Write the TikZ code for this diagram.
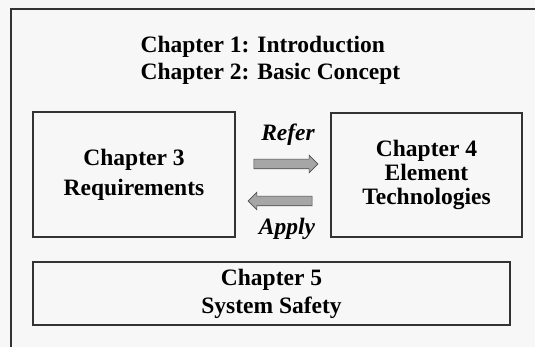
\documentclass[tikz,border=0pt]{standalone}
\usepackage{fontspec}
\setmainfont{Liberation Serif}
\usetikzlibrary{shapes.arrows}

\begin{document}
\begin{tikzpicture}[x=1pt, y=-1pt, line width=1.1pt,
        font=\fontsize{23.5}{27}\selectfont\bfseries,
        chapbox/.style={draw=black!80, align=center, inner sep=0pt},
        fatarrow/.style={single arrow, draw=black!70, fill=black!35, line width=0.6pt,
            minimum height=64pt, single arrow head extend=4pt, inner sep=4.5pt}]
            \clip (0,0) rectangle (535,347);
            \fill[black!3] (0,0) rectangle (535,347);
            \draw[black!80] (11,360) -- (11,9) -- (550,9);
            \node[anchor=west, align=left, inner sep=0pt] (intro) at (140,60)
                {Chapter 1: Introduction\\Chapter 2: Basic Concept};
            \node[chapbox, minimum width=202pt, minimum height=125pt,
                font=\fontsize{23.5}{30}\selectfont\bfseries] (req) at (134,174.5)
                {Chapter 3\\Requirements};
            \node[chapbox, minimum width=191pt, minimum height=124pt,
                font=\fontsize{23.5}{24}\selectfont\bfseries] (tech) at (426.5,175)
                {Chapter 4\\Element\\Technologies};
            \node[chapbox, minimum width=477pt, minimum height=63pt,
                font=\fontsize{23.5}{28}\selectfont\bfseries] (safety) at (271.5,293.5)
                {Chapter 5\\System Safety};
            \node[font=\fontsize{23.5}{27}\selectfont\bfseries\itshape] (refer) at (288,135) {Refer};
            \node[font=\fontsize{23.5}{27}\selectfont\bfseries\itshape] (apply) at (287,229) {Apply};
            \node[fatarrow] (refarrow) at (283.5,164) {};
            \node[fatarrow, shape border rotate=180] (apparrow) at (282.5,201) {};
\end{tikzpicture}
\end{document}
